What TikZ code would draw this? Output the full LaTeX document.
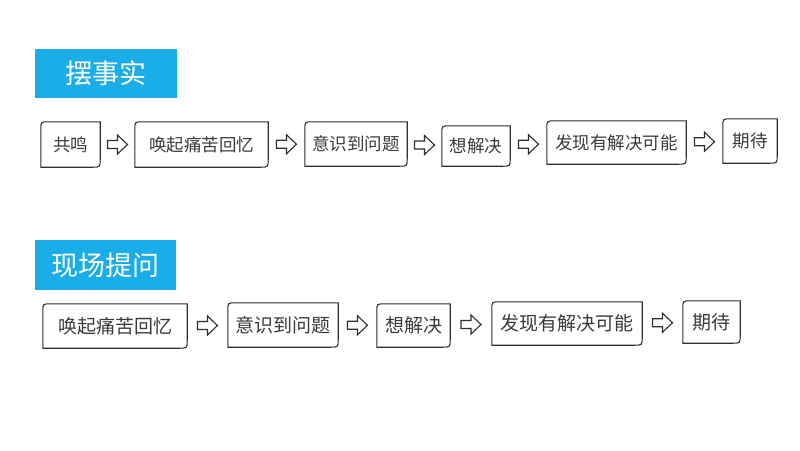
\documentclass[tikz,border=0pt]{standalone}
\usepackage{fontspec}
\setmainfont{Noto Sans CJK SC}
\usetikzlibrary{calc}
\definecolor{titleblue}{HTML}{1AADE8}
\definecolor{txtgray}{HTML}{3A3A3A}
\definecolor{edgegray}{HTML}{2E2E2E}
\tikzset{
  titlebox/.style={fill=titleblue,text=white,inner sep=0pt,font=\fontsize{27}{30}\selectfont},
  stepboxA/.style={inner sep=0pt,text=txtgray,font=\fontsize{17.5}{20}\selectfont},
  stepboxB/.style={inner sep=0pt,text=txtgray,font=\fontsize{19}{22}\selectfont},
  edgeline/.style={draw=edgegray,line width=1.1pt},
  blockarr/.style={draw=edgegray,line width=1.1pt,fill=white,line join=miter}
}
\newcommand\mydiagbox[1]{%
  \draw[edgeline] (#1.north east) -- ([xshift=8pt]#1.north west)
    .. controls (#1.north west) .. ([yshift=-8pt]#1.north west)
    -- (#1.south west) -- ([xshift=-8pt]#1.south east)
    .. controls (#1.south east) .. ([yshift=8pt]#1.south east) -- cycle;}
\newcommand\myharrow[2]{%
  \coordinate (m#1#2) at ($(#1.east)!0.5!(#2.west)$);
  \draw[blockarr] ([xshift=-10pt,yshift=4pt]m#1#2) -- ++(10pt,0) -- ++(0,5.5pt)
    -- ++(10pt,-9.5pt) -- ++(-10pt,-9.5pt) -- ++(0,5.5pt) -- ++(-10pt,0) -- cycle;}
\begin{document}
\begin{tikzpicture}[x=1pt,y=-1pt]
\useasboundingbox (0,0) rectangle (800,450);
% titles
\node[titlebox,minimum width=142pt,minimum height=49pt] (t1) at (106,73.5) {摆事实};
\node[titlebox,minimum width=141pt,minimum height=50pt] (t2) at (105.5,265) {现场提问};
% row 1
\node[stepboxA,minimum width=59pt,minimum height=45pt] (a1) at (70.5,144.5) {共鸣};
\node[stepboxA,minimum width=133pt,minimum height=45pt] (a2) at (201.5,144.5) {唤起痛苦回忆};
\node[stepboxA,minimum width=102pt,minimum height=44pt] (a3) at (356,144) {意识到问题};
\node[stepboxA,minimum width=68pt,minimum height=40pt] (a4) at (476,146) {想解决};
\node[stepboxA,minimum width=139pt,minimum height=43pt] (a5) at (616.5,142.5) {发现有解决可能};
\node[stepboxA,minimum width=54pt,minimum height=44pt] (a6) at (750,141) {期待};
\foreach \n in {a1,a2,a3,a4,a5,a6} {\mydiagbox{\n}}
\myharrow{a1}{a2}
\myharrow{a2}{a3}
\myharrow{a3}{a4}
\myharrow{a4}{a5}
\myharrow{a5}{a6}
% row 2
\node[stepboxB,minimum width=144pt,minimum height=44pt] (b1) at (115,326) {唤起痛苦回忆};
\node[stepboxB,minimum width=110pt,minimum height=44pt] (b2) at (283,325) {意识到问题};
\node[stepboxB,minimum width=73pt,minimum height=43pt] (b3) at (413.5,325.5) {想解决};
\node[stepboxB,minimum width=150pt,minimum height=43pt] (b4) at (567,323.5) {发现有解决可能};
\node[stepboxB,minimum width=57pt,minimum height=42pt] (b5) at (711.5,322) {期待};
\foreach \n in {b1,b2,b3,b4,b5} {\mydiagbox{\n}}
\myharrow{b1}{b2}
\myharrow{b2}{b3}
\myharrow{b3}{b4}
\myharrow{b4}{b5}
\end{tikzpicture}
\end{document}
